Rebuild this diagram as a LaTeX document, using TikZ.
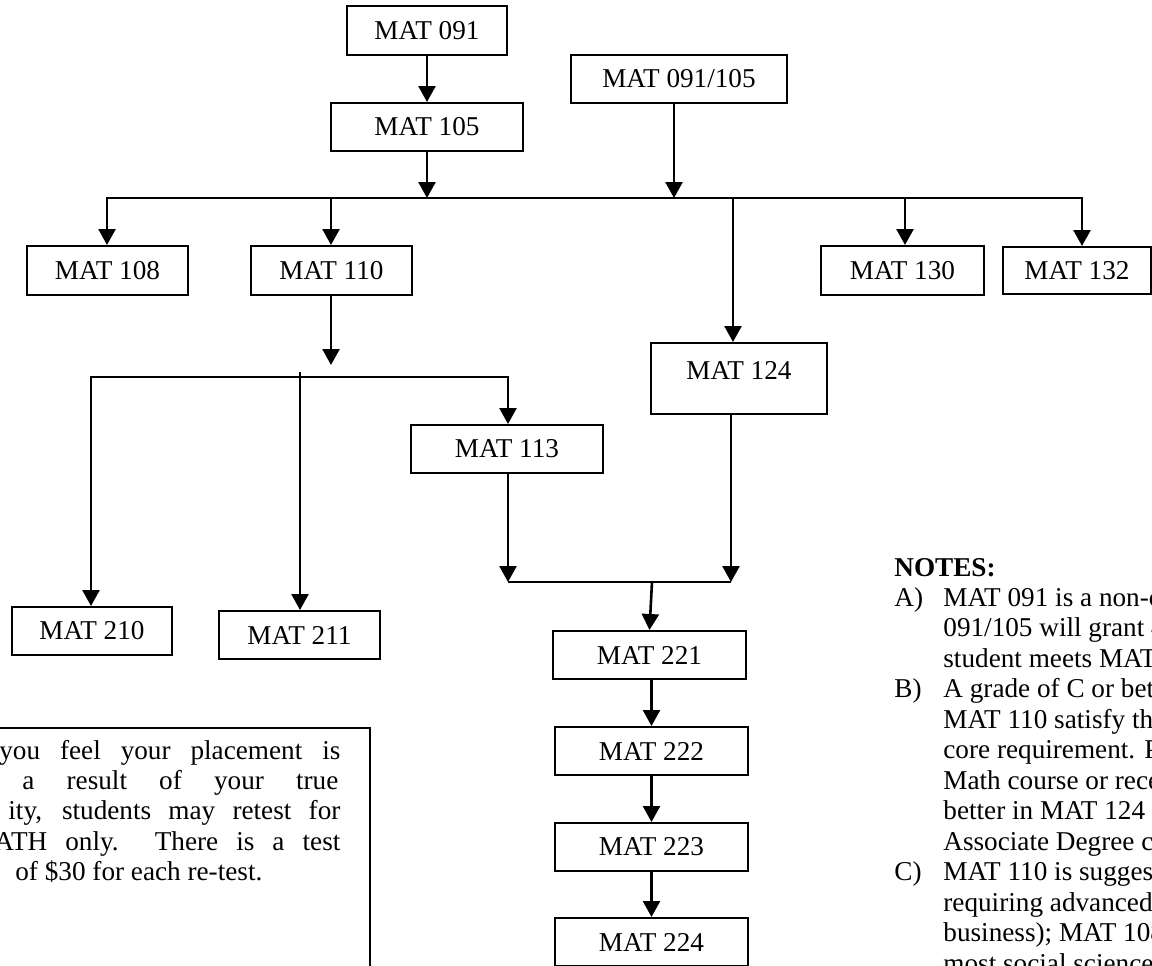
\documentclass[tikz,border=0pt]{standalone}
\usepackage{fontspec}
\setmainfont{Liberation Serif}
\usetikzlibrary{arrows.meta}
\newcommand\fnt{\fontsize{13.6pt}{15.6pt}\selectfont}
\begin{document}
\begin{tikzpicture}[x=0.5pt,y=-0.5pt,
  box/.style={draw,line width=1pt,inner sep=0pt,font=\fnt,align=center},
  txt/.style={inner sep=0pt,font=\fnt,anchor=base west},
  ln/.style={line width=1.3pt},
  arr/.style={line width=1.3pt,-{Triangle[width=8.5pt,length=8pt]}},
  arrb/.style={line width=1.3pt,{Triangle[width=8.5pt,length=8pt]}-{Triangle[width=8.5pt,length=8pt]}}]
\useasboundingbox (0,0) rectangle (1152,965);
\clip (0,0) rectangle (1152,965);
% boxes
\node[box,minimum width=80pt,minimum height=24.5pt] (m091) at (427,30.5) {MAT 091};
\node[box,minimum width=96pt,minimum height=24pt] (m105) at (427,127) {MAT 105};
\node[box,minimum width=108pt,minimum height=24pt] (m091105) at (679,79) {MAT 091/105};
\node[box,minimum width=80.5pt,minimum height=24.5pt] (m108) at (107.5,270.5) {MAT 108};
\node[box,minimum width=80.5pt,minimum height=24.5pt] (m110) at (331.5,270.5) {MAT 110};
\node[box,minimum width=81.5pt,minimum height=24.5pt] (m130) at (902.5,270.5) {MAT 130};
\node[box,minimum width=74pt,minimum height=23.5pt] (m132) at (1077,270.5) {MAT 132};
\node[box,minimum width=88pt,minimum height=35.5pt,text depth=8.5pt] (m124) at (739,378.5) {MAT 124};
\node[box,minimum width=96pt,minimum height=24pt] (m113) at (507,449) {MAT 113};
\node[box,minimum width=80pt,minimum height=24pt] (m210) at (92,631) {MAT 210};
\node[box,minimum width=80.5pt,minimum height=24pt] (m211) at (299.5,635) {MAT 211};
\node[box,minimum width=96.5pt,minimum height=24pt] (m221) at (649.5,655) {MAT 221};
\node[box,minimum width=96.5pt,minimum height=24pt] (m222) at (651.5,751) {MAT 222};
\node[box,minimum width=96.5pt,minimum height=24pt] (m223) at (651.5,847) {MAT 223};
\node[box,minimum width=96.5pt,minimum height=24pt] (m224) at (651.5,942) {MAT 224};
% junction coordinates
\coordinate (j105) at (427,198);
\coordinate (j091105) at (674,198);
\coordinate (bL) at (107,198);
\coordinate (bR) at (1082,198);
\coordinate (b110) at (331,198);
\coordinate (b124) at (733,198);
\coordinate (b130) at (905,198);
\coordinate (t110) at (331,365);
\coordinate (c210) at (91,377);
\coordinate (c113) at (508,377);
\coordinate (c211) at (300,372);
\coordinate (d113) at (508,582);
\coordinate (d124) at (731,582);
\coordinate (d221) at (652,582);
% connectors
\draw[arr] (m091) -- (m105);
\draw[arr] (m105) -- (j105);
\draw[arr] (m091105.south -| j091105) -- (j091105);
\draw[arrb] (bL |- m108.north) -- (bL) -- (bR) -- (bR |- m132.north);
\draw[arr] (b110) -- (b110 |- m110.north);
\draw[arr] (b124) -- (b124 |- m124.north);
\draw[arr] (b130) -- (b130 |- m130.north);
\draw[arr] (m110.south -| t110) -- (t110);
\draw[arrb] (c210 |- m210.north) -- (c210) -- (c113) -- (c113 |- m113.north);
\draw[arr] (c211) -- (c211 |- m211.north);
\draw[arr] (m113.south -| d113) -- (d113);
\draw[arr] (m124.south -| d124) -- (d124);
\draw[ln] (d113) -- (d124);
\draw[arr] (d221) -- (m221.north);
\draw[arr] (m221.south -| m222.north) -- (m222.north);
\draw[arr] (m222) -- (m223);
\draw[arr] (m223) -- (m224);
% retest box
\node[draw,line width=1pt,inner sep=0pt,anchor=north east,minimum width=200pt,minimum height=140pt] (retest) at (371,727) {};
\node[txt] (r1) at (-1,759) {\makebox[170.5pt][s]{you feel your placement is}};
\node[txt] (r2) at (22,789.4) {\makebox[158pt][s]{a result of your true}};
\node[txt] (r3) at (8,819.8) {\makebox[166pt][s]{ity, students may retest for}};
\node[txt] (r4) at (-6,850.2) {\makebox[173pt][s]{ATH only.\ \ There is a test}};
\node[txt] (r5) at (15,880.6) {of \$30 for each re-test.};
% notes
\node[txt] (nh) at (894,576) {\textbf{NOTES:}};
\node[txt] (la) at (894,606) {A)};
\node[txt] (lb) at (894,697.5) {B)};
\node[txt] (lc) at (894,880.5) {C)};
\node[txt] (n1) at (943,606) {MAT 091 is a non-c};
\node[txt] (n2) at (943,636.5) {091/105 will grant 4};
\node[txt] (n3) at (943,667) {student meets MAT};
\node[txt] (n4) at (943,697.5) {A grade of C or bett};
\node[txt] (n5) at (943,728) {MAT 110 satisfy th};
\node[txt] (n6) at (943,758.5) {core requirement. P};
\node[txt] (n7) at (943,789) {Math course or rece};
\node[txt] (n8) at (943,819.5) {better in MAT 124 o};
\node[txt] (n9) at (943,850) {Associate Degree co};
\node[txt] (n10) at (943,880.5) {MAT 110 is sugges};
\node[txt] (n11) at (943,911) {requiring advanced};
\node[txt] (n12) at (943,941.5) {business); MAT 108};
\node[txt] (n13) at (943,972) {most social science};
\end{tikzpicture}
\end{document}
